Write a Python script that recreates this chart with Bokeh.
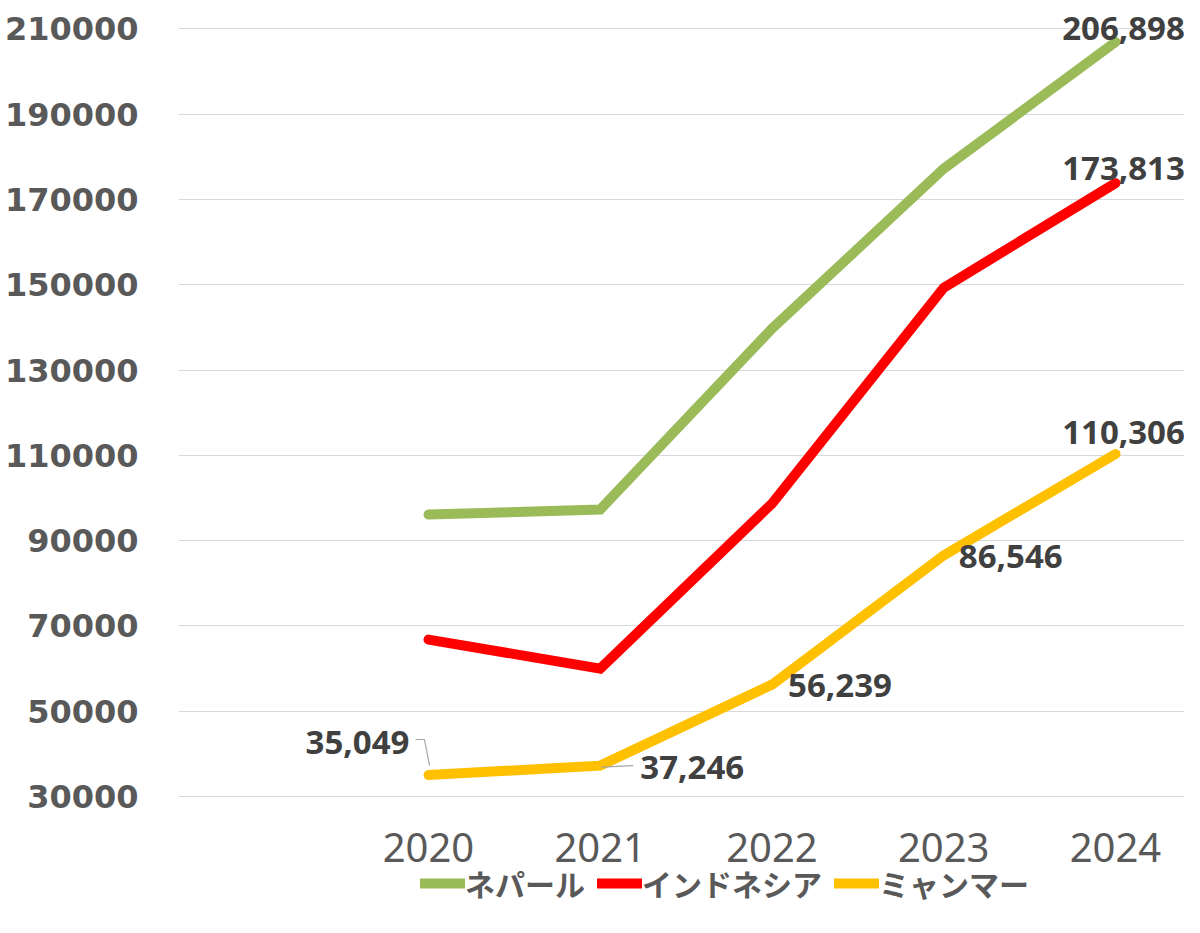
from bokeh.plotting import figure
from bokeh.models import ColumnDataSource, Range1d, FixedTicker, Legend, LegendItem, NumeralTickFormatter
from bokeh.core.properties import value
from bokeh.embed import file_html
from bokeh.resources import INLINE

# ---- data ----
years = [2020, 2021, 2022, 2023, 2024]
nepal = [96100, 97300, 139700, 177200, 206898]
indonesia = [66800, 60000, 98700, 149300, 173813]
myanmar = [35049, 37246, 56239, 86546, 110306]
series_names = ["ネパール", "インドネシア", "ミャンマー"]
series_colors = ["#9BBB59", "#FF0000", "#FFC000"]
y_ticks = [30000, 50000, 70000, 90000, 110000, 130000, 150000, 170000, 190000, 210000]

# ---- layout ----
W, H = 1184, 917
BL, BR, BT, BB = 178, 0, 0, 0
x_start, x_end = 2018.5444, 2024.4017
y_start, y_end = 1641, 216633
x_axis_at = 29063
frame_w = W - BL - BR
frame_h = H - BT - BB
px_x = frame_w / (x_end - x_start)
px_y = frame_h / (y_end - y_start)

p = figure(width=W, height=H, output_backend="svg", toolbar_location=None,
           x_range=Range1d(x_start, x_end), y_range=Range1d(y_start, y_end),
           min_border_left=BL, min_border_right=BR, min_border_top=BT, min_border_bottom=BB)
p.outline_line_color = None
p.background_fill_color = "white"
p.border_fill_color = "white"

p.xgrid.grid_line_color = None
p.ygrid.grid_line_color = "#D9D9D9"
p.ygrid.grid_line_width = 1.2
p.yaxis.ticker = FixedTicker(ticks=y_ticks)
p.yaxis.formatter = NumeralTickFormatter(format="0")
p.xaxis.ticker = FixedTicker(ticks=years)
p.xaxis.fixed_location = x_axis_at

for ax in (p.xaxis, p.yaxis):
    ax.axis_line_color = None
    ax.major_tick_line_color = None
    ax.minor_tick_line_color = None
    ax.major_tick_out = 0
    ax.major_tick_in = 0
    ax.minor_tick_out = 0

p.yaxis.major_label_text_font = "DejaVu Sans"
p.yaxis.major_label_text_font_style = "bold"
p.yaxis.major_label_text_font_size = "32px"
p.yaxis.major_label_text_color = "#595959"
p.yaxis.major_label_standoff = 40

p.xaxis.major_label_text_font = "Noto Sans"
p.xaxis.major_label_text_font_size = "40px"
p.xaxis.major_label_text_color = "#595959"
p.xaxis.major_label_standoff = 32

renderers = []
for vals, name, col in zip([nepal, indonesia, myanmar], series_names, series_colors):
    src = ColumnDataSource(dict(x=years, y=vals))
    r = p.line("x", "y", source=src, line_color=col, line_width=10,
               line_cap="round", line_join="miter")
    renderers.append(r)

# leader lines (pixel offsets from the data point converted to data units)
def lead(xv, yv, offs):
    return ([xv + dx / px_x for dx, dy in offs], [yv - dy / px_y for dx, dy in offs])

l1 = lead(years[0], myanmar[0], [(-13, -35.5), (-4, -35.5), (1, -9.5)])
l2 = lead(years[1], myanmar[1], [(1, 1.5), (33, 0)])
p.multi_line(xs=[l1[0], l2[0]], ys=[l1[1], l2[1]], line_color="#A6A6A6", line_width=1.2)

# data labels
lab_x = [years[4], years[4]] + years
lab_y = [nepal[4], indonesia[4]] + myanmar
lab_t = [f"{v:,}" for v in lab_y]
lab_dx = [8, 8, -71, 92, 68, 67, 8]
lab_dy = [-14, -15, -33, 1.5, 1, 1, -22]
lab_src = ColumnDataSource(dict(x=lab_x, y=lab_y, t=lab_t, dx=lab_dx, dy=lab_dy))
p.text(x="x", y="y", text="t", source=lab_src, x_offset="dx", y_offset="dy",
       text_align="center", text_baseline="middle",
       text_font=value("Noto Sans"), text_font_style="bold",
       text_font_size="33px", text_color="#404040")

legend = Legend(items=[LegendItem(label=value(n), renderers=[r]) for n, r in zip(series_names, renderers)],
                orientation="horizontal", location=(242, 12))
legend.label_text_font = "Noto Sans CJK JP"
legend.label_text_font_style = "bold"
legend.label_text_font_size = "30px"
legend.label_text_color = "#595959"
legend.glyph_width = 45
legend.glyph_height = 20
legend.label_standoff = 0
legend.spacing = 12
legend.padding = 0
legend.margin = 0
legend.border_line_alpha = 0
legend.background_fill_alpha = 0
p.add_layout(legend, "center")

open("out.html", "w").write(file_html(p, INLINE))
